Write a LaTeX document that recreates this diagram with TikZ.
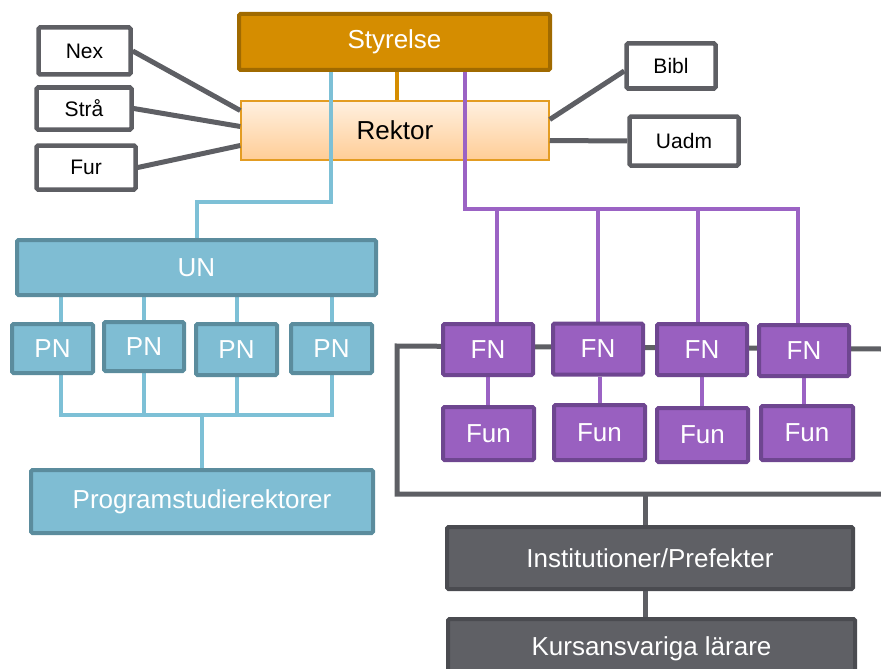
\documentclass[tikz,border=0pt]{standalone}
\usepackage{fontspec}
\setmainfont{Liberation Sans}
\usetikzlibrary{calc}
\pgfdeclarelayer{bg}
\pgfdeclarelayer{bgb}
\pgfsetlayers{bgb,bg,main}
\definecolor{styfill}{HTML}{D58D00}
\definecolor{styline}{HTML}{A06A00}
\definecolor{rektop}{HTML}{FFF0E0}
\definecolor{rekbot}{HTML}{FFCD96}
\definecolor{rekline}{HTML}{E39C22}
\definecolor{bluefill}{HTML}{7FBDD3}
\definecolor{blueline}{HTML}{5B8C9D}
\definecolor{bluecon}{HTML}{7DC0D6}
\definecolor{purfill}{HTML}{9960C0}
\definecolor{purline}{HTML}{6E4690}
\definecolor{purcon}{HTML}{9B63C4}
\definecolor{grayline}{HTML}{5E5F64}
\definecolor{grayfill}{HTML}{5F6065}
\definecolor{grayedge}{HTML}{4A4B50}
\tikzset{
  bigtxt/.style={font=\fontsize{26}{30}\selectfont},
  smalltxt/.style={font=\fontsize{21}{24}\selectfont},
  sidebox/.style={draw=grayline, line width=4.5pt, fill=white, rounded corners=1.5pt, smalltxt, inner sep=0pt},
  stybox/.style={draw=styline, line width=4pt, fill=styfill, text=white, rounded corners=1.5pt, bigtxt, inner sep=0pt},
  rekbox/.style={draw=rekline, line width=1.5pt, top color=rektop, bottom color=rekbot, text=black, bigtxt, inner sep=0pt},
  bluebox/.style={draw=blueline, line width=4pt, fill=bluefill, text=white, rounded corners=1.5pt, bigtxt, inner sep=0pt},
  purbox/.style={draw=purline, line width=4pt, fill=purfill, text=white, rounded corners=1.5pt, bigtxt, inner sep=0pt},
  graybox/.style={draw=grayedge, line width=4pt, fill=grayfill, text=white, rounded corners=1.5pt, bigtxt, inner sep=0pt},
  graycon/.style={draw=grayline, line width=5pt},
  bluec/.style={draw=bluecon, line width=4pt},
  purc/.style={draw=purcon, line width=4pt},
  orc/.style={draw=styfill, line width=4pt},
}
\begin{document}
\begin{tikzpicture}[x=1pt,y=-1pt]
\useasboundingbox (0,0) rectangle (881,669);
\clip (0,0) rectangle (881,669);
% nodes
\node[stybox, minimum width=311pt, minimum height=56pt] (Sty) at (394.5,42) {Styrelse};
\begin{pgfonlayer}{bgb}
\node[rekbox, minimum width=308pt, minimum height=59pt] (Rek) at (395,130.5) {Rektor};
\end{pgfonlayer}
\node[sidebox, minimum width=92pt, minimum height=47pt] (Nex) at (84.5,51) {Nex};
\node[sidebox, minimum width=95pt, minimum height=42pt] (Stra) at (84,108.5) {Strå};
\node[sidebox, minimum width=99pt, minimum height=44pt] (Fur) at (86,167.5) {Fur};
\node[sidebox, minimum width=89pt, minimum height=45pt] (Bibl) at (671,66) {Bibl};
\node[sidebox, minimum width=109pt, minimum height=49pt] (Uadm) at (684,141) {Uadm};
\node[bluebox, minimum width=359pt, minimum height=55pt] (UN) at (196.5,267.5) {UN};
\node[bluebox, minimum width=81pt, minimum height=49pt] (PN1) at (52.5,348.5) {PN};
\node[bluebox, minimum width=80pt, minimum height=49pt] (PN2) at (144,346.5) {PN};
\node[bluebox, minimum width=81pt, minimum height=51pt] (PN3) at (236.5,349.5) {PN};
\node[bluebox, minimum width=81pt, minimum height=49pt] (PN4) at (331.5,348.5) {PN};
\node[bluebox, minimum width=342pt, minimum height=63pt] (Prog) at (202,501.5) {Programstudierektorer};
\node[purbox, minimum width=90pt, minimum height=51pt] (FN1) at (488,349.5) {FN};
\node[purbox, minimum width=90pt, minimum height=51pt] (FN2) at (598,349) {FN};
\node[purbox, minimum width=90pt, minimum height=51pt] (FN3) at (702,349.5) {FN};
\node[purbox, minimum width=90pt, minimum height=51pt] (FN4) at (804,350.5) {FN};
\node[purbox, minimum width=91pt, minimum height=53pt] (Fun1) at (488.5,433.5) {Fun};
\node[purbox, minimum width=91pt, minimum height=55pt] (Fun2) at (599.5,432.5) {Fun};
\node[purbox, minimum width=91pt, minimum height=54pt] (Fun3) at (702.5,435) {Fun};
\node[purbox, minimum width=92pt, minimum height=54pt] (Fun4) at (807,433) {Fun};
\node[graybox, minimum width=406pt, minimum height=62pt] (Inst) at (650,558) {Institutioner/Prefekter};
\node[graybox, minimum width=407pt, minimum height=60pt] (Kurs) at (651.5,649) {Kursansvariga lärare};
% helper coordinates
\coordinate (bl) at (331,202);
\coordinate (pu) at (465,209);
\coordinate (pb) at (200,415);
\coordinate (gl) at (397,346);
\coordinate (gr) at (881,349);
\coordinate (gb) at (397,494);
% connectors (behind boxes)
\begin{pgfonlayer}{bg}
\draw[graycon] (Nex.east) -- ([yshift=20pt]Rek.west);
\draw[graycon] (Stra.east) -- ([yshift=4pt]Rek.west);
\draw[graycon] (Fur.east) -- ([yshift=-15pt]Rek.west);
\draw[graycon] ([yshift=-5pt]Bibl.west) -- ([yshift=11pt]Rek.east);
\draw[graycon] (Uadm.west) -- ([yshift=-10pt]Rek.east);
\draw[orc] ([xshift=2.5pt]Sty.south) -- ([xshift=2pt]Rek.north);
\draw[bluec] (Sty.south -| bl) -- (bl) -| (UN.north);
\draw[purc] (Sty.south -| pu) |- ([xshift=-6pt]FN4.north |- pu) -- ([xshift=-6pt]FN4.north);
\draw[purc] ([xshift=9pt]FN1.north |- pu) -- ([xshift=9pt]FN1.north);
\draw[purc] (FN2.north |- pu) -- (FN2.north);
\draw[purc] ([xshift=-4pt]FN3.north |- pu) -- ([xshift=-4pt]FN3.north);
\draw[bluec] ([xshift=8pt]PN1.north |- UN.south) -- ([xshift=8pt]PN1.north);
\draw[bluec] (PN2.north |- UN.south) -- (PN2.north);
\draw[bluec] (PN3.north |- UN.south) -- (PN3.north);
\draw[bluec] (PN4.north |- UN.south) -- (PN4.north);
\draw[bluec] ([xshift=8pt]PN1.south) -- ([xshift=8pt]PN1.south |- pb) -- (PN4.south |- pb) -- (PN4.south);
\draw[bluec] (PN2.south) -- (PN2.south |- pb);
\draw[bluec] (PN3.south) -- (PN3.south |- pb);
\draw[bluec] (Prog.north |- pb) -- (Prog.north);
\draw[purc] (FN1.south) -- (FN1.south |- Fun1.north);
\draw[purc] ([xshift=2pt]FN2.south) -- ([xshift=2pt]FN2.south |- Fun2.north);
\draw[purc] (FN3.south) -- (FN3.south |- Fun3.north);
\draw[purc] (FN4.south) -- (FN4.south |- Fun4.north);
\draw[graycon] (gr) -- (gl) -- (gb) -- (gb -| gr);
\draw[graycon] ([xshift=-5pt]Inst.north |- gb) -- ([xshift=-5pt]Inst.north);
\draw[graycon] ([xshift=-5pt]Inst.south) -- ([xshift=-5pt]Inst.south |- Kurs.north);
\end{pgfonlayer}
\end{tikzpicture}
\end{document}
